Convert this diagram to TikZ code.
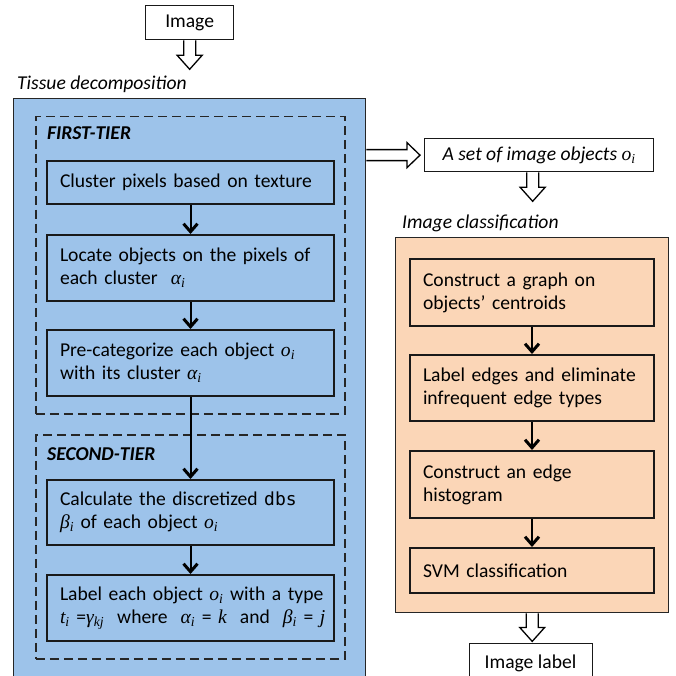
\documentclass[tikz,border=0pt]{standalone}
\usepackage{fontspec}
\setmainfont{Carlito}
\newfontfamily\tmfont{Liberation Serif}
\newfontfamily\codefont{DejaVu Sans Mono}
\usetikzlibrary{arrows.meta,calc}
\definecolor{tblue}{RGB}{157,195,234}
\definecolor{torange}{RGB}{251,214,183}
\newcommand\vv[2]{{\tmfont\itshape #1}\textsubscript{\tmfont\itshape #2}}
\newcommand\vi[1]{{\tmfont\itshape #1}}
\newcommand\hollowdown[2]{%
  \draw[hollow] let \p1=#1, \p2=#2 in
    (\x1-6pt,\y1) -- (\x1-6pt,\y2+14pt) -- (\x1-12.5pt,\y2+14pt) -- (\x1,\y2)
    -- (\x1+12.5pt,\y2+14pt) -- (\x1+6pt,\y2+14pt) -- (\x1+6pt,\y1);}
\newcommand\hollowright[2]{%
  \draw[hollow] let \p1=#1, \p2=#2 in
    (\x1,\y1+5.5pt) -- (\x2-13pt,\y1+5.5pt) -- (\x2-13pt,\y1+12.5pt) -- (\x2,\y1)
    -- (\x2-13pt,\y1-12.5pt) -- (\x2-13pt,\y1-5.5pt) -- (\x1,\y1-5.5pt);}
\begin{document}
\begin{tikzpicture}[x=1pt,y=-1pt,
  font=\fontsize{19.6}{23}\selectfont,
  procbox/.style={draw=black!90, line width=2pt, anchor=north west, align=left,
    inner xsep=13pt, inner ysep=0pt},
  plainbox/.style={draw=black!90, line width=1.3pt, fill=white, anchor=north west,
    inner sep=0pt},
  container/.style={draw=black!85, line width=1.4pt, anchor=north west, inner sep=0pt},
  tier/.style={draw=black!85, line width=1.5pt, dash pattern=on 9pt off 5pt,
    anchor=north west, inner sep=0pt},
  flow/.style={line width=2pt, -{Straight Barb[length=8pt,width=14pt,line width=3pt]}},
  hollow/.style={draw=black, line width=1.3pt, fill=white, line join=miter},
  title/.style={anchor=base west, inner sep=0pt, font=\fontsize{19.6}{23}\selectfont\itshape},
  tiertitle/.style={anchor=base west, inner sep=0pt, font=\fontsize{19.6}{23}\selectfont\bfseries\itshape}]
\useasboundingbox (0,0) rectangle (676,676);

% top image box
\node[plainbox, minimum width=88, minimum height=34] (img) at (145,5) {Image};
\coordinate (itip) at ($(img.south)+(0,29)$);
\hollowdown{(img.south)}{(itip)}

% tissue decomposition
\node[title] (ttd) at (17,90) {Tissue decomposition};
\node[container, fill=tblue, minimum width=352, minimum height=578] (tissue) at (13,98) {};
\node[tier, minimum width=309, minimum height=297] (t1) at (35,116) {};
\node[tiertitle] (t1t) at (47,140) {FIRST-TIER};
\node[tier, minimum width=309, minimum height=224] (t2) at (35,434) {};
\node[tiertitle] (t2t) at (47,460) {SECOND-TIER};

\node[procbox, text width=261, minimum height=43] (b1) at (46,160) {\mbox{Cluster pixels based on texture}};
\node[procbox, text width=261, minimum height=66] (b2) at (46,234) {\mbox{Locate objects on the pixels of}\\each cluster~ \vv{α}{i}};
\node[procbox, text width=261, minimum height=66] (b3) at (46,329) {\mbox{Pre-categorize each object \vv{o}{i}}\\with its cluster \vv{α}{i}};
\node[procbox, text width=261, minimum height=65] (b4) at (46,479) {\mbox{Calculate the discretized {\codefont\fontsize{18}{23}\selectfont dbs}}\\\vv{β}{i} of each object \vv{o}{i}};
\node[procbox, text width=261, minimum height=66] (b5) at (46,574) {\mbox{Label each object \vv{o}{i} with a type}\\\mbox{\vv{t}{i} =\vv{γ}{kj} ~where~ \vv{α}{i} = \vi{k} ~and~ \vv{β}{i} = \vi{j}}};
\draw[flow] (b1) -- (b2);
\draw[flow] (b2) -- (b3);
\draw[flow] (b3) -- (b4);
\draw[flow] (b4) -- (b5);

% objects box
\node[plainbox, minimum width=229, minimum height=33, font=\fontsize{19.6}{23}\selectfont\itshape] (objs) at (424,138) {A set of image objects \vv{o}{i}};
\coordinate (hstart) at (tissue.east |- objs.west);
\coordinate (htip) at ($(objs.west)+(-4,0)$);
\hollowright{(hstart)}{(htip)}
\coordinate (ostart) at ($(objs.south)+(-6.5,0)$);
\coordinate (otip) at ($(ostart)+(0,29)$);
\hollowdown{(ostart)}{(otip)}

% image classification
\node[title] (tic) at (402,228) {Image classification};
\node[container, fill=torange, minimum width=273, minimum height=375] (cls) at (395,237) {};
\node[procbox, text width=218, minimum height=67] (c1) at (409,258) {Construct a graph on\\objects’ centroids};
\node[procbox, text width=218, minimum height=66] (c2) at (409,354) {\mbox{Label edges and eliminate}\\infrequent edge types};
\node[procbox, text width=218, minimum height=67] (c3) at (409,450) {Construct an edge\\histogram};
\node[procbox, text width=218, minimum height=45] (c4) at (409,547) {SVM classification};
\draw[flow] (c1) -- (c2);
\draw[flow] (c2) -- (c3);
\draw[flow] (c3) -- (c4);

\coordinate (ctip) at ($(cls.south)+(0,28)$);
\hollowdown{(cls.south)}{(ctip)}
\node[plainbox, minimum width=123, minimum height=46] (lbl) at (469,643) {};
\node[anchor=base, inner sep=0pt] (lblt) at (530.5,668) {Image label};
\end{tikzpicture}
\end{document}
